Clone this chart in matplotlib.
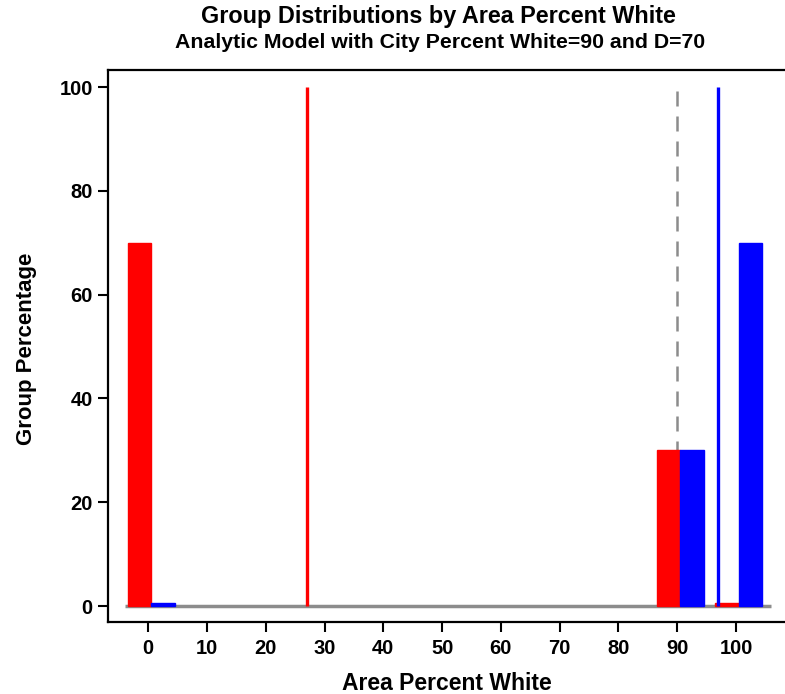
import numpy as np
import matplotlib
matplotlib.use("Agg")
import matplotlib.pyplot as plt

plt.rcParams['font.family'] = ['Liberation Sans', 'DejaVu Sans']

# area percent white where the groups live
areas = [0, 90, 100]
red_pct = [70, 30, 0.5]
blue_pct = [0.5, 30, 70]
# group mean lines
red_mean = 27
blue_mean = 97
city_white = 90
xticks = [0, 10, 20, 30, 40, 50, 60, 70, 80, 90, 100]
yticks = [0, 20, 40, 60, 80, 100]

W, H = 785, 694
fig = plt.figure(figsize=(W / 100, H / 100), dpi=100)
# right spine falls outside the picture, like the cropped original
ax = fig.add_axes([108 / W, (H - 622) / H, 692 / W, 552 / H])

ax.hlines(0, -4, 106, color='#8c8c8c', lw=2.5, zorder=1)
ax.vlines(city_white, 0, 100, color='#8c8c8c', lw=1.8, linestyles=(0, (6, 4)), zorder=1)

ax.bar(np.array(areas) - 1.5, red_pct, width=4, color='#ff0000', edgecolor='#ff0000', lw=1, zorder=2)
ax.bar(np.array(areas) + 2.5, blue_pct, width=4, color='#0000ff', edgecolor='#0000ff', lw=1, zorder=2)

ax.vlines(red_mean, 0, 100, color='#ff0000', lw=2.4, zorder=3)
ax.vlines(blue_mean, 0, 100, color='#0000ff', lw=2.4, zorder=3)

ax.set_xlim(-6.86, 110.9)
ax.set_ylim(-3.08, 103.3)
ax.set_xticks(xticks)
ax.set_yticks(yticks)
ax.tick_params(length=7.5, width=1.5, labelsize=14.5)
ax.tick_params(axis='x', pad=5)
ax.tick_params(axis='y', pad=3.5)
for lab in ax.get_xticklabels() + ax.get_yticklabels():
    lab.set_fontweight('bold')
for s in ax.spines.values():
    s.set_linewidth(1.6)

fig.text(447 / W, 1 - 683 / H, 'Area Percent White', ha='center', va='center',
         fontsize=16.5, fontweight='bold')
fig.text(27 / W, 1 - 349 / H, 'Group Percentage', ha='center', va='center',
         rotation=90, fontsize=16, fontweight='bold')
fig.text(438 / W, 1 - 17 / H, 'Group Distributions by Area Percent White', ha='center',
         va='center', fontsize=16.8, fontweight='bold')
fig.text(440 / W, 1 - 43 / H, 'Analytic Model with City Percent White=90 and D=70',
         ha='center', va='center', fontsize=15.3, fontweight='bold')

fig.savefig('out.png', dpi=100)
